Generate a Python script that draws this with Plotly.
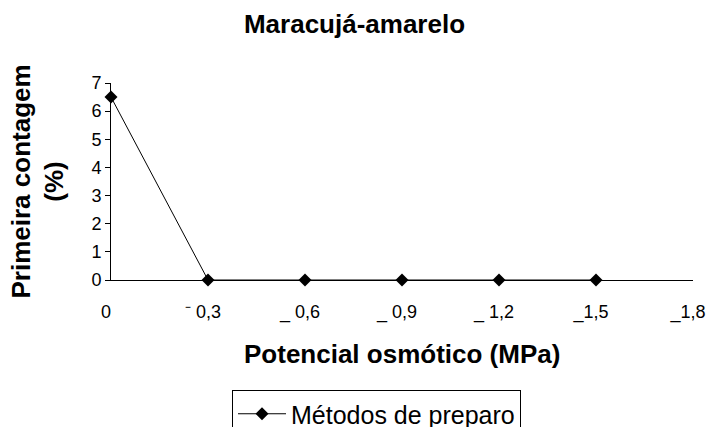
import plotly.graph_objects as go

# dados
potencial = [0, 0.3, 0.6, 0.9, 1.2, 1.5]
primeira_contagem = [6.5, 0, 0, 0, 0, 0]

tick_vals = [0, 0.3, 0.6, 0.9, 1.2, 1.5, 1.8]
tick_text = ["0", "⁻ 0,3", "_ 0,6", "_ 0,9", "_ 1,2", "_1,5", "_1,8"]

fonte = "Arial, Liberation Sans, sans-serif"

# área do gráfico em pixels: x 111..693, y 83..280
fig = go.Figure(
    data=[
        go.Scatter(
            x=potencial,
            y=primeira_contagem,
            mode="lines+markers",
            name="Métodos de preparo",
            line=dict(color="black", width=1),
            marker=dict(symbol="diamond", size=10, color="black"),
            cliponaxis=False,
        )
    ]
)

fig.update_layout(
    width=709,
    height=427,
    margin=dict(l=111, r=16, t=83, b=147, autoexpand=False),
    paper_bgcolor="white",
    plot_bgcolor="white",
    font=dict(family=fonte, size=18, color="black"),
    title=dict(
        text="<b>Maracujá-amarelo</b>",
        font=dict(size=26),
        x=0.5, xanchor="center",
        y=1 - 24 / 427, yref="container", yanchor="middle",
    ),
    xaxis=dict(
        range=[0, 1.8],
        tickvals=tick_vals,
        ticktext=tick_text,
        ticklabeloverflow="allow",
        ticklabelshift=-5,
        ticklabelstandoff=15,
        showline=True, linecolor="black", linewidth=1,
        showgrid=False, zeroline=False,
        ticks="",
    ),
    yaxis=dict(
        range=[0, 7],
        dtick=1,
        showline=True, linecolor="black", linewidth=1,
        showgrid=False, zeroline=False,
        ticks="outside", ticklen=5, tickcolor="black",
    ),
    annotations=[
        dict(
            text="<b>Potencial osmótico (MPa)</b>",
            xref="paper", yref="paper",
            x=0.5, y=(280 - 354) / 197,
            xanchor="center", yanchor="middle",
            showarrow=False, font=dict(size=26),
        ),
        dict(
            text="<b>Primeira contagem<br>(%)</b>",
            xref="paper", yref="paper",
            x=(37 - 111) / 582, y=0.5,
            xanchor="center", yanchor="middle",
            textangle=-90,
            showarrow=False, font=dict(size=26),
        ),
    ],
    showlegend=True,
    legend=dict(
        x=(232 - 111) / 582, xanchor="left",
        y=(280 - 390) / 197, yanchor="top",
        bordercolor="black", borderwidth=1,
        font=dict(size=25),
        itemwidth=48,
        bgcolor="white",
    ),
)

# tira a margem padrão do body para a figura ocupar a janela toda
fig.write_html(
    "out.html",
    config={"displayModeBar": False},
    post_script="document.body.style.margin = '0';",
)
